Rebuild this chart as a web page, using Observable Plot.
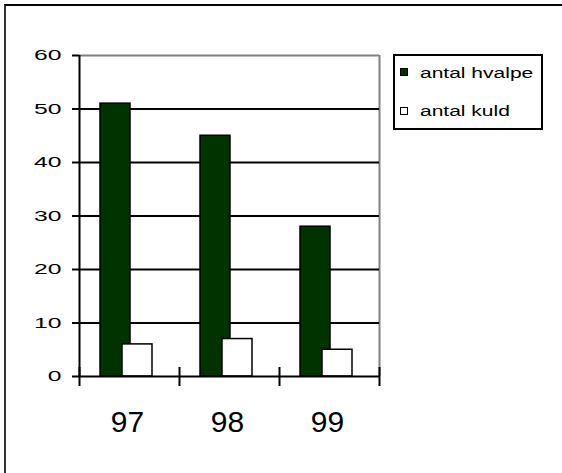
<!DOCTYPE html>
<html><head><meta charset="utf-8">
<script src="https://cdn.jsdelivr.net/npm/d3@7"></script>
<script src="https://cdn.jsdelivr.net/npm/@observablehq/plot@0.6"></script>
<style>
html,body{margin:0;padding:0;background:#fff;}
#root{position:relative;width:562px;height:473px;overflow:hidden;font-family:"Liberation Sans",Arial,sans-serif;}
#outer{position:absolute;left:4px;top:4px;width:700px;height:700px;border-top:2px solid #000;border-left:2px solid #333;}
#chart{position:absolute;left:0;top:0;}
#legend{position:absolute;left:393px;top:54px;width:150px;height:76px;border:2px solid #000;box-sizing:border-box;background:#fff;}
.sw{position:absolute;width:8px;height:8px;border:1px solid #000;box-sizing:border-box;}
.lab{position:absolute;font-size:14px;line-height:14px;white-space:nowrap;transform:scaleX(1.5);transform-origin:0 50%;color:#000;}
</style></head><body>
<div id="root"><div id="outer"></div><div id="chart"></div><div id="legend"></div></div>
<script>
const years = ["97", "98", "99"];
const hvalpe = [51, 45, 28];
const kuld = [6, 7, 5];
const series = ["antal hvalpe", "antal kuld"];
const seriesColors = ["#003300", "#ffffff"];
const yTicks = [0, 10, 20, 30, 40, 50, 60];

const data = years.map((y, i) => ({year: y, i, hvalpe: hvalpe[i], kuld: kuld[i]}));
const bounds = d3.range(years.length + 1);
const centers = years.map((y, i) => i + 0.5);

const svg = Plot.plot({
  width: 562,
  height: 473,
  marginLeft: 79,
  marginRight: 183,
  marginTop: 55,
  marginBottom: 97,
  style: {background: "transparent", fontFamily: "'Liberation Sans', Arial, sans-serif", color: "#000", overflow: "visible"},
  x: {domain: [0, years.length], axis: null},
  y: {domain: [0, 60], axis: null},
  marks: [
    Plot.ruleY([60], {stroke: "#808080", strokeWidth: 2}),
    Plot.ruleX([years.length], {stroke: "#808080", strokeWidth: 2}),
    Plot.ruleY(yTicks.filter(t => t > 0 && t < 60), {stroke: "#000", strokeWidth: 2}),
    Plot.rectY(data, {x1: "i", x2: d => d.i + 1, y: "hvalpe", fill: seriesColors[0], stroke: "#000", strokeWidth: 1.5, insetLeft: 21, insetRight: 49}),
    Plot.rectY(data, {x1: "i", x2: d => d.i + 1, y: "kuld", fill: seriesColors[1], stroke: "#000", strokeWidth: 1.5, insetLeft: 43, insetRight: 27}),
    Plot.ruleY([0], {stroke: "#000", strokeWidth: 2}),
    Plot.ruleX([0], {stroke: "#000", strokeWidth: 2}),
    Plot.ruleX(bounds, {x: d => d, y1: 0, y2: 0, insetTop: -9, insetBottom: -10, stroke: "#000", strokeWidth: 2}),
    Plot.axisY({ticks: yTicks, tickSize: 7, tickPadding: 11, fontSize: 15, strokeWidth: 2, label: null, tickFormat: d => String(d)}),
    Plot.axisX({ticks: centers, tickSize: 0, tickPadding: 34, fontSize: 30, dx: -2, label: null, tickFormat: d => years[Math.floor(d)]})
  ]
});
document.getElementById("chart").appendChild(svg);

// horizontally stretched tick labels, as in the reference
d3.select(svg).selectAll('[aria-label="y-axis tick label"] text').each(function() {
  const t = this.getAttribute("transform") || "";
  this.setAttribute("transform", t + " scale(1.65,1)");
});

const legend = document.getElementById("legend");
const swTops = [12, 51];
const labTops = [9.6, 48.1];
series.forEach((s, k) => {
  const sw = document.createElement("div");
  sw.className = "sw";
  sw.style.left = "5px";
  sw.style.top = swTops[k] + "px";
  sw.style.background = seriesColors[k];
  legend.appendChild(sw);
  const lab = document.createElement("div");
  lab.className = "lab";
  lab.style.left = "25px";
  lab.style.top = labTops[k] + "px";
  lab.textContent = s;
  legend.appendChild(lab);
});
</script>
</body></html>
